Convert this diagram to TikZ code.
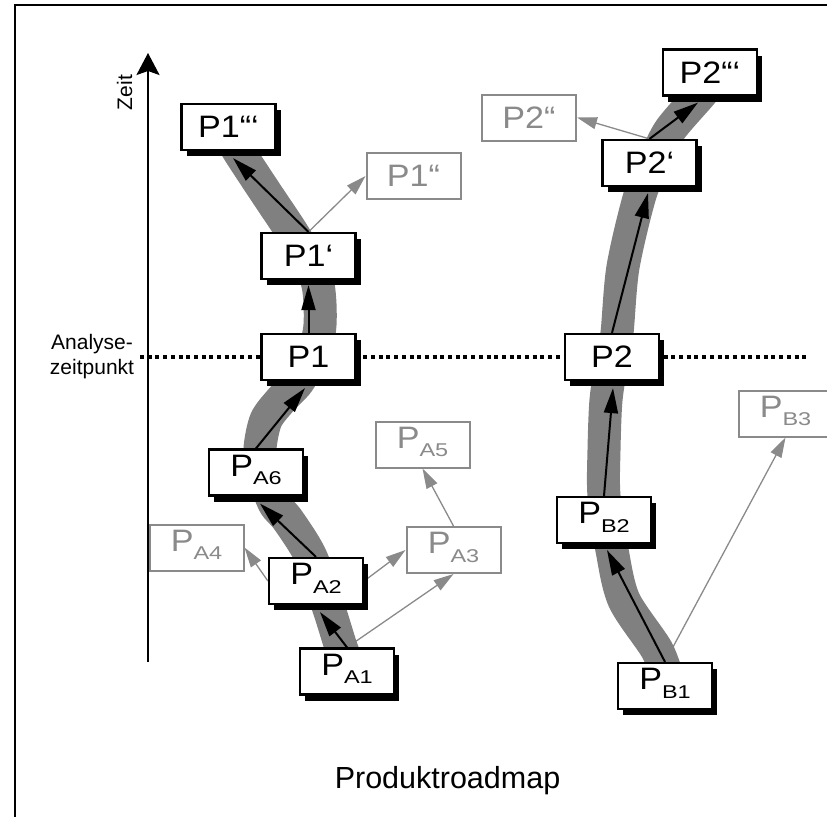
\documentclass[tikz,border=0pt]{standalone}
\usepackage{fontspec}
\setmainfont{Liberation Sans}
\usetikzlibrary{arrows.meta,shadows,backgrounds}
\definecolor{bandgray}{RGB}{128,128,128}
\definecolor{ltgray}{RGB}{138,138,138}
\newcommand{\boxfont}{\fontsize{31}{33}\selectfont}
\newcommand{\lab}[1]{\scalebox{1.1}[1]{#1}}
\newcommand{\Psub}[1]{\scalebox{1.1}[1]{P}\raisebox{-8.5pt}{\scalebox{1.27}[1]{\fontsize{18.5}{18.5}\selectfont #1}}}
\tikzset{
  box/.style={draw=black, line width=2.2pt, fill=white, minimum width=94pt, minimum height=46pt,
    inner sep=0pt, font=\boxfont,
    drop shadow={shadow xshift=5pt, shadow yshift=-6pt, fill=black, opacity=1}},
  gbox/.style={draw=ltgray, line width=2pt, fill=white, text=ltgray, minimum width=94pt,
    minimum height=46pt, inner sep=0pt, font=\boxfont},
  sub/.style={text height=22pt, text depth=15pt},
  band/.style={draw=bandgray, line width=33pt},
  barrow/.style={draw=black, line width=2pt, -{Triangle[length=25pt,width=14pt]}},
  garrow/.style={draw=ltgray, line width=1.3pt, -{Triangle[length=20pt,width=12pt]}},
  dotline/.style={draw=black, line width=4pt, dash pattern=on 4pt off 3.7pt},
  axisline/.style={draw=black, line width=2pt, -{Stealth[length=22pt,width=23pt,inset=4pt]}},
  frameline/.style={draw=black, line width=1.5pt}
}
\begin{document}
\begin{tikzpicture}[x=1pt,y=-1pt]
\useasboundingbox (0,0) rectangle (827,817);

% frame
\coordinate (fr1) at (15,817);
\coordinate (fr2) at (15,5);
\coordinate (fr3) at (827,5);
\draw[frameline] (fr1) -- (fr2) -- (fr3);

% boxes
\node[box] (P1t) at (228.5,127) {\lab{P1“‘}};
\node[box] (P1p) at (308.5,256) {\lab{P1‘}};
\node[box] (P1) at (308.5,357) {\lab{P1}};
\node[gbox] (P1pp) at (413.5,176) {\lab{P1“}};
\node[box] (P2t) at (710,72.5) {\lab{P2“‘}};
\node[gbox] (P2pp) at (529,117.5) {\lab{P2“}};
\node[box] (P2p) at (649.5,163) {\lab{P2‘}};
\node[box] (P2) at (612,357) {\lab{P2}};
\begin{scope}
  \clip (0,0) rectangle (827,817);
  \node[gbox,sub] (PB3) at (785.5,413.5) {\Psub{B3}};
\end{scope}
\node[box,sub] (PA6) at (256,472.5) {\Psub{A6}};
\node[gbox,sub] (PA4) at (196.5,547.5) {\Psub{A4}};
\node[box,sub] (PA2) at (316,581) {\Psub{A2}};
\node[box,sub] (PA1) at (347,671.5) {\Psub{A1}};
\node[gbox,sub] (PA3) at (453.5,550) {\Psub{A3}};
\node[gbox,sub] (PA5) at (422.5,444.5) {\Psub{A5}};
\node[box,sub] (PB2) at (604,520) {\Psub{B2}};
\node[box,sub] (PB1) at (665,686) {\Psub{B1}};

% texts
\node[rotate=90, font=\fontsize{21}{21}\selectfont, inner sep=0pt] (zeit) at (124.5,92.5) {Zeit};
\node[align=center, font=\fontsize{21}{25}\selectfont, inner sep=0pt] (ana) at (92,357) {Analyse-\\zeitpunkt};
\node[font=\fontsize{30.5}{31}\selectfont, anchor=base, inner sep=0pt] (title) at (447.5,788) {Produktroadmap};

% axis and time line
\coordinate (ax0) at (148,662);
\coordinate (ax1) at (148,53);
\coordinate (dl) at (140,357);
\coordinate (dr) at (807,357);

\begin{pgfonlayer}{background}
  \draw[axisline] (ax0) -- (ax1);
  \draw[dotline] (dl) -- (dr);
  % alternative (grey) steps
  \draw[garrow] (P1p.north) -- (P1pp.west);
  \draw[garrow] (P2p.north) -- (P2pp.east);
  \draw[garrow] (PA2.west) -- (PA4.east);
  \draw[garrow] (PA2.east) -- (PA3.west);
  \draw[garrow] (PA1.north) -- (PA3.south);
  \draw[garrow] (PA3.north) -- (PA5.south);
  \draw[garrow] (PB1.north) -- (PB3.south);
  % roadmap bands
  \draw[band] plot[smooth, tension=0.5] coordinates {
    (350,670) (341,647) (330,612) (311,557) (288,520) (274,503) (262,470) (260,448)
    (266,420) (281,400) (298,382) (313,355) (320,325) (318,285) (305,255) (292,232)
    (266,193) (241,155) (232,140)};
  \draw[band] plot[smooth, tension=0.5] coordinates {
    (668,680) (657,650) (624,600) (612,550) (604,496) (604,450) (606,400) (612,360)
    (617,333) (623,267) (640,195) (655,160) (670,130) (700,95) (712,80)};
  % main steps
  \draw[barrow] (PA1.north) -- ([shift={(4pt,-7pt)}]PA2.south);
  \draw[barrow] (PA2.north) -- ([shift={(4pt,-7pt)}]PA6.south);
  \draw[barrow] (PA6.north) -- ([shift={(-3.5pt,-7pt)}]P1.south);
  \draw[barrow] (P1.north) -- ([shift={(0pt,-5pt)}]P1p.south);
  \draw[barrow] (P1p.north) -- ([shift={(4.5pt,-7pt)}]P1t.south);
  \draw[barrow] (PB1.north) -- ([shift={(3pt,-6pt)}]PB2.south);
  \draw[barrow] (PB2.north) -- ([shift={(1pt,-7pt)}]P2.south);
  \draw[barrow] (P2.north) -- ([shift={(-1.5pt,-6pt)}]P2p.south);
  \draw[barrow] (P2p.north) -- ([shift={(-12pt,-6pt)}]P2t.south);
\end{pgfonlayer}
\end{tikzpicture}
\end{document}
